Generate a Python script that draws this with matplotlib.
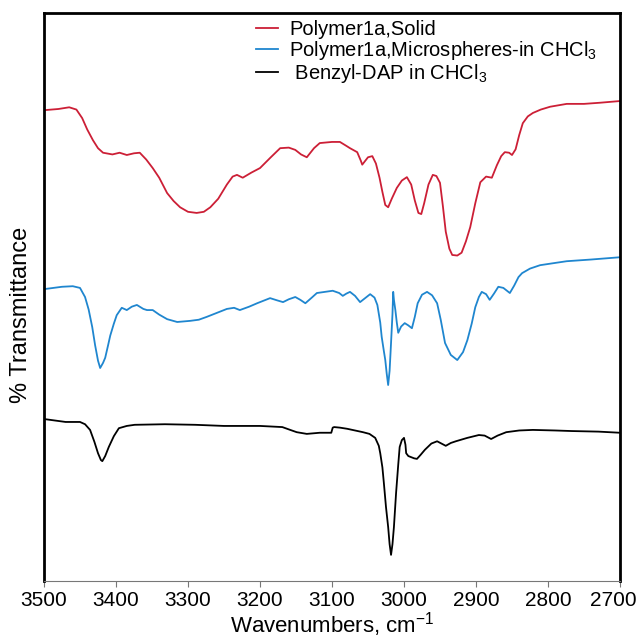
import matplotlib.pyplot as plt
import matplotlib.transforms as mtransforms

plt.rcParams['font.family'] = ['Liberation Sans', 'DejaVu Sans']
plt.rcParams['mathtext.default'] = 'regular'

# Polymer 1a, solid film
wn_solid = [3499, 3480, 3465, 3455, 3447, 3440, 3432, 3425, 3418, 3405, 3395, 3385,
            3375, 3367, 3358, 3349, 3340, 3329, 3320, 3311, 3300, 3288, 3278, 3269,
            3258, 3246, 3238, 3232, 3224, 3212, 3200, 3185, 3172, 3160, 3151, 3143,
            3135, 3125, 3117, 3100, 3089, 3080, 3075, 3065, 3060, 3058, 3050, 3044,
            3039, 3034, 3030, 3026, 3022, 3017, 3010, 3003, 2996, 2990, 2985, 2980,
            2976, 2972, 2966, 2960, 2955, 2950, 2946, 2942, 2937, 2933, 2926, 2920,
            2914, 2908, 2901, 2894, 2886, 2878, 2871, 2865, 2860, 2854, 2850, 2845,
            2840, 2835, 2828, 2821, 2810, 2797, 2774, 2750, 2728, 2700]
t_solid = [82.9, 83.1, 83.4, 83.0, 81.5, 79.5, 77.6, 76.2, 75.4, 75.1, 75.4, 75.0,
           75.3, 75.4, 74.2, 72.7, 71.0, 68.3, 66.9, 65.8, 65.0, 64.8, 65.0, 65.8,
           67.3, 69.8, 71.2, 71.5, 71.0, 71.9, 72.7, 74.6, 76.2, 76.3, 75.9, 75.1,
           74.6, 76.2, 77.1, 77.3, 77.3, 76.6, 76.2, 75.5, 74.0, 73.3, 74.6, 74.8,
           73.5, 71.0, 68.5, 66.2, 65.8, 67.3, 69.2, 70.5, 71.1, 69.8, 67.0, 64.8,
           64.6, 66.5, 69.8, 71.5, 71.3, 70.1, 66.0, 61.5, 58.5, 57.4, 57.3, 57.8,
           59.8, 62.3, 66.5, 70.2, 71.2, 71.0, 73.2, 74.8, 75.5, 75.4, 75.0, 76.0,
           78.5, 80.6, 81.8, 82.4, 83.0, 83.5, 84.0, 84.0, 84.2, 84.5]

# Polymer 1a, microspheres in CHCl3
wn_micro = [3499, 3475, 3460, 3450, 3443, 3438, 3433, 3429, 3425, 3422, 3418, 3415,
            3411, 3408, 3403, 3399, 3392, 3385, 3378, 3371, 3362, 3357, 3349, 3340,
            3329, 3315, 3297, 3285, 3274, 3260, 3246, 3236, 3228, 3215, 3204, 3186,
            3176, 3168, 3160, 3151, 3144, 3137, 3128, 3121, 3110, 3099, 3090, 3085,
            3080, 3075, 3068, 3061, 3054, 3047, 3041, 3037, 3033, 3031, 3028, 3026,
            3024, 3022, 3020, 3018, 3016, 3015, 3014, 3012, 3010, 3008, 3004, 2999,
            2994, 2989, 2985, 2981, 2975, 2968, 2961, 2954, 2949, 2943, 2935, 2926,
            2918, 2912, 2906, 2901, 2896, 2892, 2886, 2881, 2875, 2869, 2862, 2853,
            2847, 2841, 2836, 2825, 2811, 2790, 2774, 2740, 2700]
t_micro = [51.4, 51.8, 51.9, 51.6, 50.0, 47.8, 44.7, 41.5, 38.8, 37.5, 38.4, 39.3,
           41.5, 43.2, 45.3, 46.8, 48.1, 47.7, 48.3, 48.6, 47.9, 47.7, 47.7, 46.9,
           46.1, 45.6, 45.8, 46.0, 46.5, 47.2, 47.9, 48.1, 47.7, 48.3, 48.9, 49.8,
           49.4, 49.1, 49.6, 50.0, 49.5, 48.9, 49.9, 50.7, 50.9, 51.1, 50.7, 50.2,
           50.6, 50.9, 50.2, 49.1, 49.8, 50.5, 49.9, 48.6, 45.5, 43.0, 40.5, 38.9,
           36.5, 34.5, 37.0, 41.9, 47.0, 50.9, 49.5, 47.7, 45.5, 43.7, 44.8, 45.4,
           45.0, 44.5, 46.5, 48.9, 50.4, 50.9, 50.3, 48.9, 46.0, 41.9, 39.8, 38.9,
           40.3, 42.4, 45.3, 48.2, 50.0, 50.9, 50.5, 49.5, 50.6, 51.8, 51.6, 50.7,
           52.0, 53.5, 54.2, 55.0, 55.6, 56.0, 56.3, 56.6, 57.0]

# Benzyl-DAP in CHCl3
wn_dap = [3499, 3470, 3450, 3443, 3436, 3430, 3425, 3421, 3419, 3415, 3410, 3403,
          3396, 3385, 3374, 3332, 3290, 3250, 3200, 3169, 3158, 3149, 3135, 3117,
          3101, 3099, 3097, 3089, 3079, 3068, 3057, 3048, 3040, 3035, 3033, 3030,
          3028, 3025, 3022, 3020, 3018, 3016, 3014, 3011, 3008, 3006, 3003, 3000,
          2998, 2997, 2994, 2990, 2986, 2982, 2977, 2971, 2962, 2954, 2948, 2942,
          2935, 2928, 2912, 2896, 2888, 2879, 2870, 2858, 2840, 2821, 2790, 2767,
          2730, 2700]
t_dap = [28.5, 28.0, 28.0, 27.6, 26.6, 24.5, 22.5, 21.3, 21.1, 22.0, 23.6, 25.5,
         26.9, 27.3, 27.5, 27.6, 27.5, 27.3, 27.3, 27.1, 26.6, 26.2, 25.9, 26.1,
         26.1, 27.0, 27.1, 27.0, 26.8, 26.5, 26.2, 25.9, 25.2, 23.8, 22.5, 20.0,
         17.3, 13.0, 9.5, 6.5, 4.6, 6.5, 9.5, 15.5, 20.5, 23.6, 24.8, 25.2,
         24.0, 22.5, 22.0, 21.8, 21.6, 21.5, 22.2, 23.1, 24.2, 24.6, 24.2, 23.8,
         24.3, 24.6, 25.2, 25.7, 25.6, 25.0, 25.6, 26.2, 26.5, 26.6, 26.5, 26.4,
         26.3, 26.1]

xticks = [3500, 3400, 3300, 3200, 3100, 3000, 2900, 2800, 2700]

fig = plt.figure(figsize=(6.37, 6.41), dpi=100)
ax = fig.add_axes([44 / 637, 60 / 641, 576 / 637, 568 / 641])

ax.plot(wn_solid, t_solid, color='#cc1f36', lw=1.3, label='Polymer1a,Solid')
ax.plot(wn_micro, t_micro, color='#1f86cf', lw=1.3,
        label='Polymer1a,Microspheres-in CHCl$_3$')
ax.plot(wn_dap, t_dap, color='black', lw=1.3, label=' Benzyl-DAP in CHCl$_3$')

ax.set_xlim(3500, 2700)
ax.set_ylim(0, 100)
ax.set_xticks(xticks)
ax.set_yticks([])
ax.tick_params(axis='x', direction='out', length=4, width=0.8, color='#777777',
               labelsize=15, pad=3)

# keep the last tick label inside the figure edge
last = ax.xaxis.get_major_ticks()[-1].label1
last.set_transform(last.get_transform()
                   + mtransforms.ScaledTranslation(-0.07, 0, fig.dpi_scale_trans))

for side in ['left', 'right', 'top']:
    ax.spines[side].set_linewidth(2.0)
ax.spines['bottom'].set_linewidth(0.8)
ax.spines['bottom'].set_color('#777777')

ax.set_xlabel('Wavenumbers, cm$^{-1}$', fontsize=16, labelpad=0)
ax.set_ylabel('% Transmittance', fontsize=17)
ax.yaxis.set_label_coords(-0.02, 0.468)

ax.legend(loc='upper left', bbox_to_anchor=(256 / 637, 1 - 20 / 641),
          bbox_transform=fig.transFigure, frameon=False, fontsize=14.5,
          handlelength=1.1, handletextpad=0.55, labelspacing=0.0,
          borderpad=0, borderaxespad=0)

fig.savefig('out.png', dpi=100)
